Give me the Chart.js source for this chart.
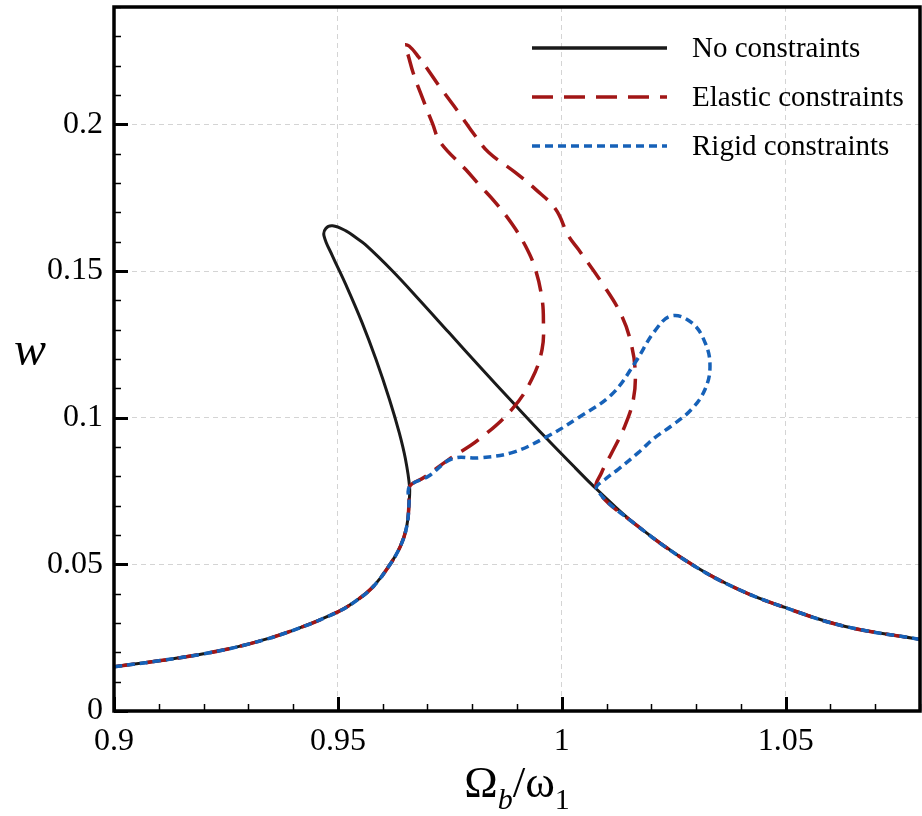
<!DOCTYPE html>
<html>
<head>
<meta charset="utf-8">
<script src="https://cdn.jsdelivr.net/npm/chart.js@4.4.1/dist/chart.umd.min.js"></script>
<style>
  html, body { margin: 0; padding: 0; background: #fff; }
  #wrap { width: 922px; height: 816px; }
</style>
</head>
<body>
<div id="wrap"><canvas id="myChart" width="922" height="816"></canvas></div>
<script>
// shared lower branch (all three cases coincide here)
const lowerX = [0.900, 0.910, 0.920, 0.930, 0.940, 0.950, 0.954, 0.9577, 0.9614, 0.9640, 0.9654, 0.9659, 0.9660];
const lowerY = [0.0151, 0.0171, 0.0195, 0.0228, 0.0275, 0.0338, 0.0375, 0.0421, 0.0494, 0.0563, 0.0631, 0.0711, 0.0765];

// shared right tail
const tailX = [1.0078, 1.0164, 1.0290, 1.0394, 1.0498, 1.0631, 1.0800];
const tailY = [0.0756, 0.0637, 0.0500, 0.0415, 0.0353, 0.0289, 0.0244];

// no constraints: backbone loop between the two junctions
const freeX = [0.9651, 0.9637, 0.9615, 0.9585, 0.9554, 0.9519, 0.9488, 0.9469, 0.9473, 0.9488, 0.9518, 0.9540, 0.9562, 0.9622, 0.9681, 0.9748, 0.9815, 0.9896, 0.9963, 1.0030];
const freeY = [0.0858, 0.0949, 0.1063, 0.1199, 0.1324, 0.1449, 0.1551, 0.1620, 0.1645, 0.1654, 0.1637, 0.1614, 0.1589, 0.1500, 0.1403, 0.1290, 0.1177, 0.1043, 0.0934, 0.0829];

// elastic constraints
const elasticX = [0.9692, 0.9748, 0.9815, 0.9889, 0.9933, 0.9956, 0.9959, 0.9956, 0.9941, 0.9919, 0.9889, 0.9852, 0.9815, 0.9785, 0.9729, 0.9711, 0.9686, 0.9668, 0.9655, 0.9648, 0.9659, 0.9681, 0.9703, 0.9726, 0.9770, 0.9807, 0.9837, 0.9896, 0.9941, 0.9986, 1.0015, 1.0037, 1.0089, 1.0134, 1.0156, 1.0164, 1.0160, 1.0141, 1.0112, 1.0089];
const elasticY = [0.0796, 0.0858, 0.0926, 0.1029, 0.1131, 0.1233, 0.1330, 0.1404, 0.1506, 0.1585, 0.1660, 0.1733, 0.1795, 0.1847, 0.1938, 0.2004, 0.2101, 0.2176, 0.2245, 0.2270, 0.2267, 0.2228, 0.2182, 0.2131, 0.2040, 0.1960, 0.1904, 0.1836, 0.1779, 0.1711, 0.1620, 0.1574, 0.1461, 0.1347, 0.1245, 0.1154, 0.1063, 0.0972, 0.0881, 0.0813];

// rigid constraints
const rigidX = [0.9703, 0.9755, 0.9815, 0.9889, 0.9963, 1.0037, 1.0112, 1.0164, 1.0208, 1.0245, 1.0290, 1.0320, 1.0331, 1.0320, 1.0290, 1.0245, 1.0208, 1.0171, 1.0126, 1.0097];
const rigidY = [0.0801, 0.0860, 0.0863, 0.0881, 0.0932, 0.1000, 0.1080, 0.1188, 0.1296, 0.1347, 0.1324, 0.1256, 0.1176, 0.1097, 0.1029, 0.0972, 0.0932, 0.0881, 0.0824, 0.0790];

const xTicks = [0.9, 0.95, 1.0, 1.05];
const yTicks = [0, 0.05, 0.1, 0.15, 0.2];
const seriesNames = ["No constraints", "Elastic constraints", "Rigid constraints"];

const SERIF = "'Liberation Serif', 'Times New Roman', serif";

function pts(xs, ys) {
  return xs.map((x, i) => ({ x: x, y: ys[i] }));
}
function curve(midX, midY) {
  return pts(lowerX, lowerY).concat(pts(midX, midY), pts(tailX, tailY));
}

const decor = {
  id: "decor",
  afterDatasetsDraw(chart) {
    const ctx = chart.ctx;
    const a = chart.chartArea;
    const xs = chart.scales.x, ys = chart.scales.y;
    ctx.save();
    ctx.strokeStyle = "#000";
    // minor / major ticks pointing inward
    for (let k = 0; k <= 24; k++) {
      const major = k % 5 === 0;
      const py = Math.round(ys.getPixelForValue(k / 100)) + 0.5;
      ctx.lineWidth = major ? 3 : 1.5;
      ctx.beginPath();
      ctx.moveTo(a.left, py);
      ctx.lineTo(a.left + (major ? 14 : 7), py);
      ctx.stroke();
    }
    for (let k = 0; k <= 18; k++) {
      const major = k % 5 === 0;
      const px = Math.round(xs.getPixelForValue(0.9 + k / 100)) + 0.5;
      ctx.lineWidth = major ? 3 : 1.5;
      ctx.beginPath();
      ctx.moveTo(px, a.bottom);
      ctx.lineTo(px, a.bottom - (major ? 14 : 7));
      ctx.stroke();
    }
    ctx.lineWidth = 3.5;
    ctx.strokeRect(a.left, a.top, a.right - a.left, a.bottom - a.top);
    ctx.restore();
  },
  afterDraw(chart) {
    const ctx = chart.ctx;
    const a = chart.chartArea;
    ctx.save();
    // legend
    const rows = [48, 97, 146];
    chart.data.datasets.forEach((ds, i) => {
      ctx.strokeStyle = ds.borderColor;
      ctx.lineWidth = 3.5;
      ctx.setLineDash(ds.borderDash || []);
      ctx.beginPath();
      ctx.moveTo(532, rows[i]);
      ctx.lineTo(667, rows[i]);
      ctx.stroke();
      ctx.setLineDash([]);
      ctx.fillStyle = "#000";
      ctx.font = "29px " + SERIF;
      ctx.textBaseline = "middle";
      ctx.textAlign = "left";
      ctx.fillText(ds.label, 692, rows[i] + 1);
    });
    // x title  Ω_b/ω_1
    ctx.fillStyle = "#000";
    ctx.textBaseline = "alphabetic";
    ctx.textAlign = "left";
    const big = "45px " + SERIF, subI = "italic 30px " + SERIF, sub = "30px " + SERIF;
    const parts = [["Ω", big, 0], ["b", subI, 12], ["/ω", big, 0], ["1", sub, 12]];
    let total = 0;
    parts.forEach(p => { ctx.font = p[1]; total += ctx.measureText(p[0]).width; });
    let cx = (a.left + a.right) / 2 - total / 2;
    parts.forEach(p => {
      ctx.font = p[1];
      ctx.fillText(p[0], cx, 797 + p[2]);
      cx += ctx.measureText(p[0]).width;
    });
    // y title
    ctx.font = "italic 48px " + SERIF;
    ctx.textAlign = "center";
    ctx.textBaseline = "middle";
    ctx.fillText("w", 30, 352);
    ctx.restore();
  }
};

const ctx = document.getElementById("myChart").getContext("2d");
const myChart = new Chart(ctx, {
  type: "line",
  data: {
    datasets: [
      {
        label: seriesNames[0],
        data: curve(freeX, freeY),
        borderColor: "#1a1a1a",
        borderWidth: 3,
        order: 3,
      },
      {
        label: seriesNames[1],
        data: curve(elasticX, elasticY),
        borderColor: "#a11616",
        borderWidth: 3.5,
        borderDash: [21, 11],
        order: 2,
      },
      {
        label: seriesNames[2],
        data: curve(rigidX, rigidY),
        borderColor: "#1661b8",
        borderWidth: 3.5,
        borderDash: [8, 5],
        order: 1,
      },
    ],
  },
  options: {
    responsive: false,
    animation: false,
    devicePixelRatio: 1,
    layout: { padding: { top: 7, right: 2, left: 0, bottom: 0 } },
    elements: {
      point: { radius: 0, hoverRadius: 0 },
      line: { tension: 0.4, fill: false, borderCapStyle: "butt" },
    },
    plugins: {
      legend: { display: false },
      tooltip: { enabled: false },
    },
    scales: {
      x: {
        type: "linear",
        min: 0.9,
        max: 1.08,
        afterBuildTicks: (scale) => { scale.ticks = xTicks.map(v => ({ value: v })); },
        afterFit: (scale) => { scale.height = 105; scale.paddingLeft = 0; scale.paddingRight = 0; },
        grid: { color: "#d4d4d4", lineWidth: 1, drawTicks: false },
        border: { display: false, dash: [5, 4] },
        ticks: {
          color: "#000",
          font: { family: SERIF, size: 32 },
          padding: 11,
          maxRotation: 0,
          autoSkip: false,
          callback: (v) => String(+v.toFixed(2)),
        },
      },
      y: {
        type: "linear",
        min: 0,
        max: 0.24,
        afterBuildTicks: (scale) => { scale.ticks = yTicks.map(v => ({ value: v })); },
        afterFit: (scale) => { scale.width = 114; scale.paddingTop = 0; scale.paddingBottom = 0; },
        grid: { color: "#d4d4d4", lineWidth: 1, drawTicks: false },
        border: { display: false, dash: [5, 4] },
        ticks: {
          color: "#000",
          font: { family: SERIF, size: 32 },
          padding: 11,
          autoSkip: false,
          callback: (v) => String(+v.toFixed(2)),
        },
      },
    },
  },
  plugins: [decor],
});
</script>
</body>
</html>
